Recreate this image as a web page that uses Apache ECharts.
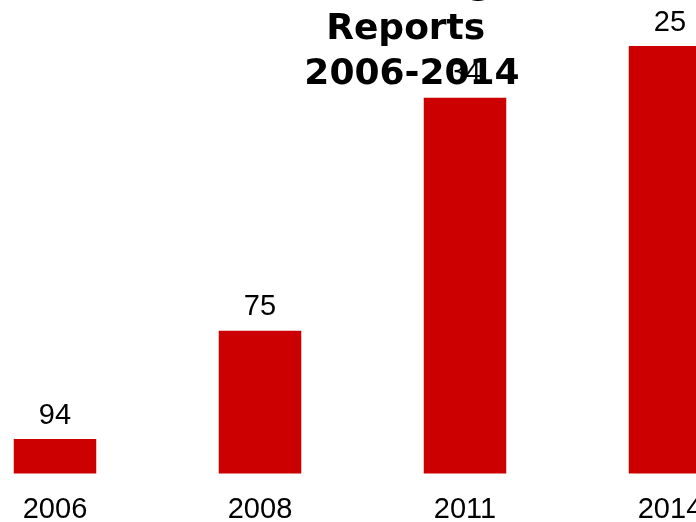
<!DOCTYPE html>
<html>
<head>
<meta charset="utf-8">
<script src="https://cdn.jsdelivr.net/npm/echarts@6/dist/echarts.min.js"></script>
<style>html,body{margin:0;padding:0;background:#fff}#c{width:696px;height:522px}</style>
</head>
<body>
<div id="c"></div>
<script>
const categories = ['2006', '2008', '2011', '2014'];
const values = [92, 381, 1002, 1140];
const labelTexts = ['94', '75', '34', '25'];
const titleText = 'Phishing \nReports \n2006-2014';

const chart = echarts.init(document.getElementById('c'), null, {renderer: 'canvas'});
chart.setOption({
  animation: false,
  backgroundColor: '#ffffff',
  title: {
    text: titleText,
    left: 412,
    top: -38,
    textAlign: 'center',
    padding: 0,
    textStyle: {fontFamily: 'DejaVu Sans', fontWeight: 'bold', fontSize: 36, lineHeight: 45, color: '#000'}
  },
  grid: {left: -47.5, right: -76.5, top: 23.5, bottom: 48.5, containLabel: false, outerBoundsMode: 'none'},
  xAxis: {
    type: 'category',
    data: categories,
    axisLine: {show: false},
    axisTick: {show: false},
    axisLabel: {margin: 22, fontFamily: 'Liberation Sans', fontSize: 29, color: '#000'}
  },
  yAxis: {
    type: 'value', min: 0, max: 1200, show: false,
    splitLine: {show: false}
  },
  series: [{
    type: 'bar',
    data: values,
    barWidth: 82.5,
    itemStyle: {color: '#cc0000'},
    label: {
      show: true, position: 'top', distance: 9,
      fontFamily: 'Liberation Sans', fontSize: 29, color: '#000',
      formatter: p => labelTexts[p.dataIndex]
    }
  }]
});
</script>
</body>
</html>
